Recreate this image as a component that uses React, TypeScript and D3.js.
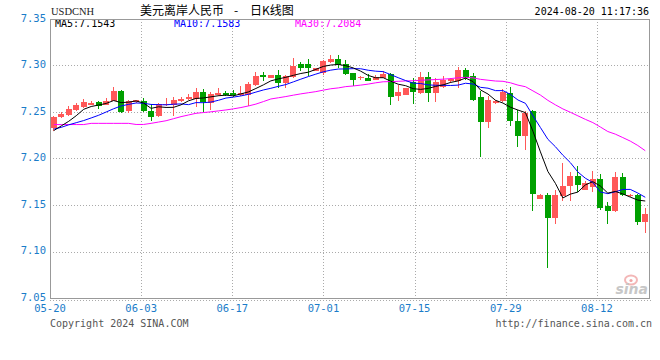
import React from 'react';
import * as d3 from 'd3';

// daily candles, 05-20 .. 08-20 (index based, 6 sessions a week)
const opens = [
  7.2330, 7.2443, 7.2465, 7.2525, 7.2553, 7.2578, 7.2610, 7.2578, 7.2621, 7.2730,
  7.2507, 7.2603, 7.2621, 7.2514, 7.2454, 7.2578, 7.2571, 7.2613, 7.2638, 7.2645,
  7.2716, 7.2596, 7.2684, 7.2702, 7.2700, 7.2684, 7.2684, 7.2791, 7.2897, 7.2869,
  7.2897, 7.2816, 7.2872, 7.3021, 7.3021, 7.2940, 7.2915, 7.3039, 7.3067, 7.3021,
  7.2918, 7.2862, 7.2869, 7.2844, 7.2862, 7.2904, 7.2667, 7.2684, 7.2826, 7.2709,
  7.2872, 7.2709, 7.2766, 7.2833, 7.2837, 7.2950, 7.2885, 7.2656, 7.2390, 7.2600,
  7.2621, 7.2709, 7.2408, 7.2241, 7.2507, 7.1560, 7.1603, 7.1355, 7.1592, 7.1699,
  7.1816, 7.1663, 7.1692, 7.1780, 7.1486, 7.1433, 7.1805, 7.1596, 7.1610, 7.1312,
];
const highs = [
  7.2461, 7.2500, 7.2560, 7.2596, 7.2642, 7.2617, 7.2617, 7.2649, 7.2770, 7.2738,
  7.2628, 7.2631, 7.2649, 7.2589, 7.2596, 7.2649, 7.2656, 7.2656, 7.2691, 7.2762,
  7.2748, 7.2713, 7.2755, 7.2727, 7.2738, 7.2780, 7.2819, 7.2933, 7.2926, 7.2897,
  7.2950, 7.2897, 7.3078, 7.3039, 7.3067, 7.2968, 7.3057, 7.3110, 7.3110, 7.3057,
  7.2918, 7.2890, 7.2904, 7.2897, 7.2940, 7.2915, 7.2791, 7.2762, 7.2869, 7.2926,
  7.2926, 7.2862, 7.2890, 7.2862, 7.2986, 7.2977, 7.2915, 7.2727, 7.2667, 7.2624,
  7.2748, 7.2766, 7.2518, 7.2507, 7.2525, 7.1621, 7.1631, 7.1656, 7.1950, 7.1851,
  7.1915, 7.1762, 7.1869, 7.1833, 7.1532, 7.1851, 7.1844, 7.1621, 7.1621, 7.1468,
];
const lows = [
  7.2301, 7.2436, 7.2454, 7.2514, 7.2543, 7.2578, 7.2535, 7.2571, 7.2613, 7.2489,
  7.2486, 7.2596, 7.2500, 7.2408, 7.2443, 7.2560, 7.2454, 7.2606, 7.2631, 7.2550,
  7.2500, 7.2525, 7.2677, 7.2677, 7.2656, 7.2677, 7.2560, 7.2784, 7.2837, 7.2869,
  7.2762, 7.2762, 7.2865, 7.2940, 7.2890, 7.2940, 7.2897, 7.3032, 7.2968, 7.2897,
  7.2784, 7.2844, 7.2833, 7.2840, 7.2862, 7.2571, 7.2613, 7.2684, 7.2589, 7.2691,
  7.2603, 7.2603, 7.2755, 7.2816, 7.2755, 7.2845, 7.2615, 7.2018, 7.2323, 7.2589,
  7.2606, 7.2348, 7.2124, 7.2092, 7.1433, 7.1560, 7.0823, 7.1301, 7.1543, 7.1543,
  7.1638, 7.1656, 7.1645, 7.1443, 7.1294, 7.1426, 7.1596, 7.1590, 7.1284, 7.1195,
];
const closes = [
  7.2450, 7.2479, 7.2535, 7.2571, 7.2610, 7.2599, 7.2560, 7.2621, 7.2727, 7.2500,
  7.2621, 7.2624, 7.2507, 7.2443, 7.2585, 7.2585, 7.2631, 7.2642, 7.2656, 7.2718,
  7.2606, 7.2695, 7.2702, 7.2684, 7.2685, 7.2709, 7.2801, 7.2887, 7.2879, 7.2897,
  7.2816, 7.2887, 7.2993, 7.2975, 7.2968, 7.2968, 7.3046, 7.3067, 7.3004, 7.2904,
  7.2848, 7.2872, 7.2837, 7.2879, 7.2911, 7.2656, 7.2713, 7.2755, 7.2720, 7.2872,
  7.2709, 7.2819, 7.2840, 7.2851, 7.2950, 7.2865, 7.2631, 7.2390, 7.2631, 7.2613,
  7.2713, 7.2408, 7.2241, 7.2489, 7.1614, 7.1603, 7.1355, 7.1603, 7.1706, 7.1816,
  7.1716, 7.1738, 7.1780, 7.1472, 7.1433, 7.1805, 7.1603, 7.1610, 7.1312, 7.1408,
];

const ma5 = [
  7.2300, 7.2350, 7.2400, 7.2460, 7.2529, 7.2559, 7.2575, 7.2592, 7.2623, 7.2601,
  7.2606, 7.2619, 7.2596, 7.2539, 7.2556, 7.2549, 7.2550, 7.2577, 7.2620, 7.2646,
  7.2651, 7.2663, 7.2675, 7.2681, 7.2674, 7.2695, 7.2716, 7.2753, 7.2792, 7.2835,
  7.2856, 7.2873, 7.2894, 7.2914, 7.2928, 7.2958, 7.2990, 7.3005, 7.3011, 7.2998,
  7.2974, 7.2939, 7.2893, 7.2868, 7.2869, 7.2831, 7.2799, 7.2783, 7.2751, 7.2743,
  7.2754, 7.2775, 7.2792, 7.2818, 7.2834, 7.2865, 7.2827, 7.2737, 7.2693, 7.2626,
  7.2596, 7.2551, 7.2521, 7.2493, 7.2293, 7.2071, 7.1860, 7.1733, 7.1576, 7.1617,
  7.1639, 7.1716, 7.1751, 7.1704, 7.1628, 7.1646, 7.1619, 7.1585, 7.1553, 7.1543,
];
const ma10 = [
  7.2316, 7.2335, 7.2362, 7.2385, 7.2408, 7.2436, 7.2465, 7.2500, 7.2535, 7.2565,
  7.2582, 7.2597, 7.2594, 7.2581, 7.2579, 7.2577, 7.2584, 7.2587, 7.2579, 7.2601,
  7.2600, 7.2607, 7.2626, 7.2650, 7.2660, 7.2673, 7.2690, 7.2714, 7.2737, 7.2755,
  7.2776, 7.2795, 7.2824, 7.2853, 7.2881, 7.2907, 7.2932, 7.2950, 7.2962, 7.2963,
  7.2966, 7.2965, 7.2949, 7.2939, 7.2934, 7.2902, 7.2869, 7.2838, 7.2810, 7.2806,
  7.2792, 7.2787, 7.2787, 7.2785, 7.2789, 7.2809, 7.2801, 7.2765, 7.2756, 7.2730,
  7.2730, 7.2689, 7.2629, 7.2593, 7.2460, 7.2333, 7.2206, 7.2127, 7.2035, 7.1955,
  7.1855, 7.1788, 7.1742, 7.1640, 7.1622, 7.1642, 7.1667, 7.1668, 7.1629, 7.1583,
];
const ma30 = [
  7.2365, 7.2365, 7.2365, 7.2365, 7.2365, 7.2378, 7.2378, 7.2378, 7.2378, 7.2378,
  7.2378, 7.2366, 7.2366, 7.2378, 7.2392, 7.2406, 7.2428, 7.2450, 7.2468, 7.2486,
  7.2494, 7.2502, 7.2512, 7.2522, 7.2534, 7.2548, 7.2565, 7.2585, 7.2612, 7.2640,
  7.2653, 7.2666, 7.2681, 7.2695, 7.2707, 7.2719, 7.2735, 7.2750, 7.2759, 7.2773,
  7.2780, 7.2789, 7.2800, 7.2814, 7.2825, 7.2827, 7.2830, 7.2834, 7.2836, 7.2841,
  7.2845, 7.2849, 7.2853, 7.2859, 7.2868, 7.2873, 7.2867, 7.2851, 7.2842, 7.2833,
  7.2830, 7.2814, 7.2789, 7.2772, 7.2727, 7.2682, 7.2625, 7.2577, 7.2533, 7.2497,
  7.2459, 7.2421, 7.2386, 7.2339, 7.2290, 7.2262, 7.2225, 7.2187, 7.2140, 7.2084,
];

const yTicks = [7.05, 7.10, 7.15, 7.20, 7.25, 7.30, 7.35];
const dateTicks = ['2024-05-20', '2024-06-03', '2024-06-17', '2024-07-01', '2024-07-15', '2024-07-29', '2024-08-12'];
const dateRange = ['2024-05-20', '2024-08-20'];

const W = 660;
const H = 360;
const plot = { left: 50, right: 649, top: 19, bottom: 298 };
const mono = '"DejaVu Sans Mono", "Liberation Mono", monospace';
const cjk = '"Noto Sans CJK SC", sans-serif';
const labelBlue = '#1a7cc9';
const upColor = '#ff5858';
const downColor = '#00a000';

const parse = d3.timeParse('%Y-%m-%d');
const fmt = d3.timeFormat('%m-%d');

const App = () => {
  const idx = d3.range(closes.length);

  const x = d3.scaleBand<number>()
    .domain(idx)
    .range([plot.left, plot.right])
    .paddingInner(0.2)
    .paddingOuter(0.1);

  const xt = d3.scaleTime()
    .domain(dateRange.map(d => parse(d) as Date))
    .range([plot.left, plot.right]);

  const y = d3.scaleLinear()
    .domain([7.05, 7.35])
    .range([plot.bottom, plot.top]);

  const cx = (i: number) => (x(i) || 0) + x.bandwidth() / 2;

  const maLine = (vals: number[]) =>
    d3.line<number>()
      .x((_, i) => cx(i))
      .y(d => y(d))(vals) || '';

  return (
    <div style={{ position: 'fixed', left: 0, top: 0, background: '#fff' }}>
      <svg width={W} height={H} style={{ display: 'block' }}>
        <rect width={W} height={H} fill="#fff" />

        {/* header */}
        <text x={51} y={15} fontFamily='"Liberation Serif", serif' fontSize={10.5} fill="#222">USDCNH</text>
        <text x={140} y={15} fontFamily={cjk} fontSize={12} fill="#000">美元离岸人民币</text>
        <text x={236} y={15} textAnchor="middle" fontFamily={cjk} fontSize={12} fill="#000">-</text>
        <text x={250} y={15} fontFamily={cjk} fontSize={12} fill="#000">日K线图</text>
        <text x={649} y={15} textAnchor="end" fontFamily={mono} fontSize={10} fill="#000">
          2024-08-20 11:17:36
        </text>

        {/* horizontal grid */}
        {yTicks.filter(t => t > 7.05 && t < 7.35).map(t => (
          <line key={t} x1={plot.left} x2={plot.right} y1={Math.round(y(t)) + 0.5} y2={Math.round(y(t)) + 0.5}
            stroke="#aaa" strokeDasharray="1,2" />
        ))}
        {/* vertical date grid */}
        {dateTicks.slice(1).map(d => {
          const px = Math.round(xt(parse(d) as Date)) + 0.5;
          return <line key={d} x1={px} x2={px} y1={plot.top} y2={plot.bottom} stroke="#aaa" strokeDasharray="1,2" />;
        })}

        {/* y labels */}
        {yTicks.map(t => (
          <text key={t} x={46} y={y(t) + 2.5} textAnchor="end" fontFamily={mono} fontSize={10.5} fill={labelBlue}>
            {t.toFixed(2)}
          </text>
        ))}

        {/* x labels */}
        {dateTicks.map(d => (
          <text key={d} x={xt(parse(d) as Date)} y={312} textAnchor="middle" fontFamily={mono} fontSize={10.5} fill={labelBlue}>
            {fmt(parse(d) as Date)}
          </text>
        ))}

        {/* candles */}
        <g shapeRendering="crispEdges">
          {idx.map(i => {
            const up = closes[i] >= opens[i];
            const col = up ? upColor : downColor;
            const top = y(Math.max(opens[i], closes[i]));
            const bot = y(Math.min(opens[i], closes[i]));
            return (
              <g key={i}>
                <line x1={cx(i)} x2={cx(i)} y1={y(highs[i])} y2={y(lows[i])} stroke={col} strokeWidth={1} />
                <rect x={x(i)} y={top} width={x.bandwidth()} height={Math.max(1, bot - top)} fill={col} />
              </g>
            );
          })}
        </g>

        {/* moving averages */}
        <path d={maLine(ma30)} fill="none" stroke="#ff00ff" strokeWidth={1} />
        <path d={maLine(ma10)} fill="none" stroke="#0000ff" strokeWidth={1} />
        <path d={maLine(ma5)} fill="none" stroke="#000" strokeWidth={1} />

        {/* legend */}
        <text x={55} y={27} fontFamily={mono} fontSize={10} fill="#000">MA5:{ma5[ma5.length - 1].toFixed(4)}</text>
        <text x={174} y={27} fontFamily={mono} fontSize={10} fill="#0000ff">MA10:{ma10[ma10.length - 1].toFixed(4)}</text>
        <text x={295} y={27} fontFamily={mono} fontSize={10} fill="#ff00ff">MA30:{ma30[ma30.length - 1].toFixed(4)}</text>

        {/* sina mark */}
        <g opacity={0.75}>
          <ellipse cx={631} cy={280} rx={6} ry={4.5} fill="none" stroke="#f0a0a0" strokeWidth={2} />
          <circle cx={631} cy={280.5} r={1.6} fill="#e88" />
          <text x={648} y={294} textAnchor="end" fontFamily='"DejaVu Sans", sans-serif' fontStyle="italic" fontWeight="bold" fontSize={14} fill="#b5b5b5">sina</text>
        </g>

        {/* frame */}
        <rect x={plot.left + 0.5} y={plot.top + 0.5} width={plot.right - plot.left} height={plot.bottom - plot.top}
          fill="none" stroke="#999" strokeWidth={1} shapeRendering="crispEdges" />
        <line x1={plot.left} x2={652} y1={300.5} y2={300.5} stroke="#aaa" strokeDasharray="1,2" />

        {/* footer */}
        <text x={50} y={327} fontFamily={mono} fontSize={10} fill="#555">Copyright 2024 SINA.COM</text>
        <text x={652} y={327} textAnchor="end" fontFamily={mono} fontSize={10} fill="#555">http://finance.sina.com.cn</text>
      </svg>
    </div>
  );
};

export default App;
